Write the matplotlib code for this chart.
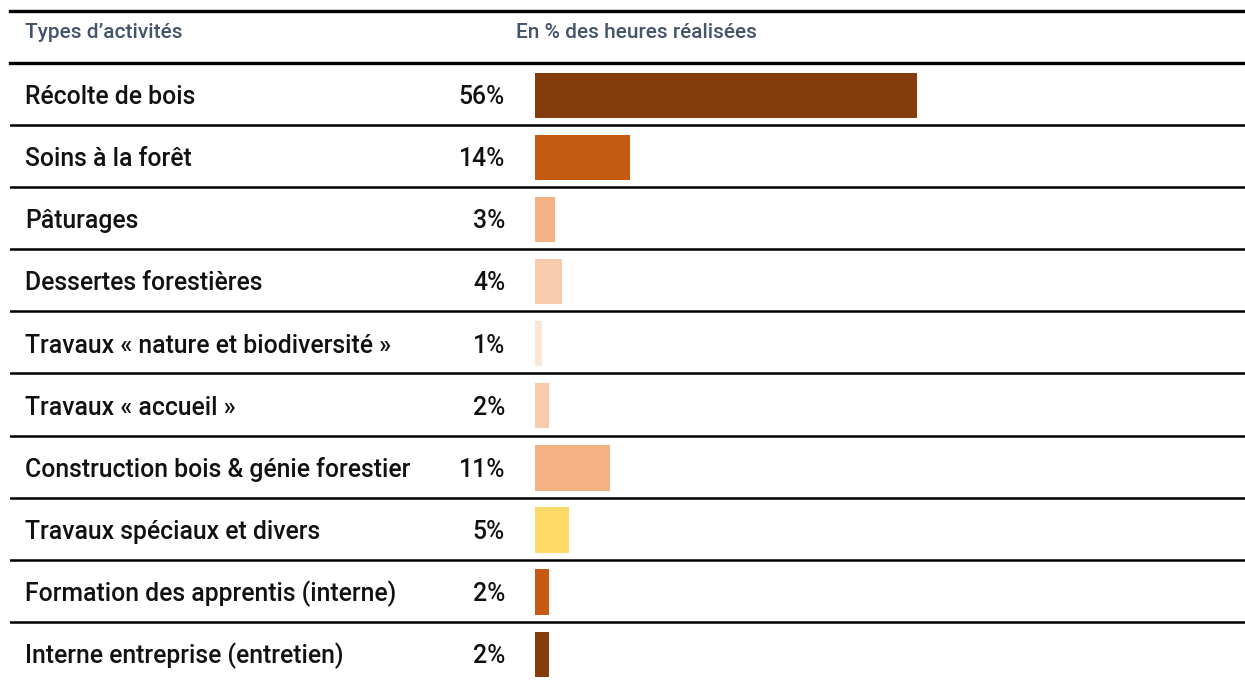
import matplotlib
matplotlib.use("Agg")
import matplotlib.pyplot as plt
import matplotlib.transforms as mtransforms

categories = [
    "Récolte de bois",
    "Soins à la forêt",
    "Pâturages",
    "Dessertes forestières",
    "Travaux « nature et biodiversité »",
    "Travaux « accueil »",
    "Construction bois & génie forestier",
    "Travaux spéciaux et divers",
    "Formation des apprentis (interne)",
    "Interne entreprise (entretien)",
]
values = [56, 14, 3, 4, 1, 2, 11, 5, 2, 2]
colors = ["#843C0C", "#C55A11", "#F4B183", "#F8CBAD", "#FBE5D6",
          "#F8CBAD", "#F4B183", "#FFD966", "#C55A11", "#843C0C"]
header_left = "Types d’activités"
header_right = "En % des heures réalisées"

plt.rcParams['font.family'] = ['Roboto', 'DejaVu Sans']

W, H = 1245, 684
fig = plt.figure(figsize=(W / 100, H / 100), dpi=100)

left_px, right_px = 10, 1245
top_px, bot_px = 63, 684
ax = fig.add_axes([left_px / W, 1 - bot_px / H, (right_px - left_px) / W, (bot_px - top_px) / H])
px_per_pct = 6.82
zero_px = 535
ax.set_xlim(-(zero_px - left_px) / px_per_pct, (right_px - zero_px) / px_per_pct)
n = len(categories)
ax.set_ylim(n - 0.5, -0.5)
ax.axis("off")

ys = list(range(n))
ax.barh([y + 0.02 for y in ys], values, height=0.73, color=colors, left=0)

tr = mtransforms.blended_transform_factory(fig.transFigure, ax.transData)
for y, cat, v in zip(ys, categories, values):
    ax.text(25 / W, y + 0.05, cat, transform=tr, ha="left", va="center",
            fontsize=17.8, color="#111111", fontweight="medium")
    ax.text(505 / W, y + 0.05, f"{v}%", transform=tr, ha="right", va="center",
            fontsize=17.8, color="#111111", fontweight="medium")

# separators
for k in range(n - 1):
    ax.axhline(k + 0.5, color="black", lw=1.8)
ax.axhline(-0.5, color="black", lw=2.4, clip_on=False)

# top line and header
fig.add_artist(plt.Line2D([left_px / W, right_px / W], [1 - 11 / H, 1 - 11 / H],
                          color="black", lw=2.4, transform=fig.transFigure))
fig.text(25 / W, 1 - 32 / H, header_left, ha="left", va="center",
         fontsize=15, color="#44546A", fontweight="medium")
fig.text(516 / W, 1 - 32 / H, header_right, ha="left", va="center",
         fontsize=15, color="#44546A", fontweight="medium")

fig.savefig("out.png", dpi=100)
